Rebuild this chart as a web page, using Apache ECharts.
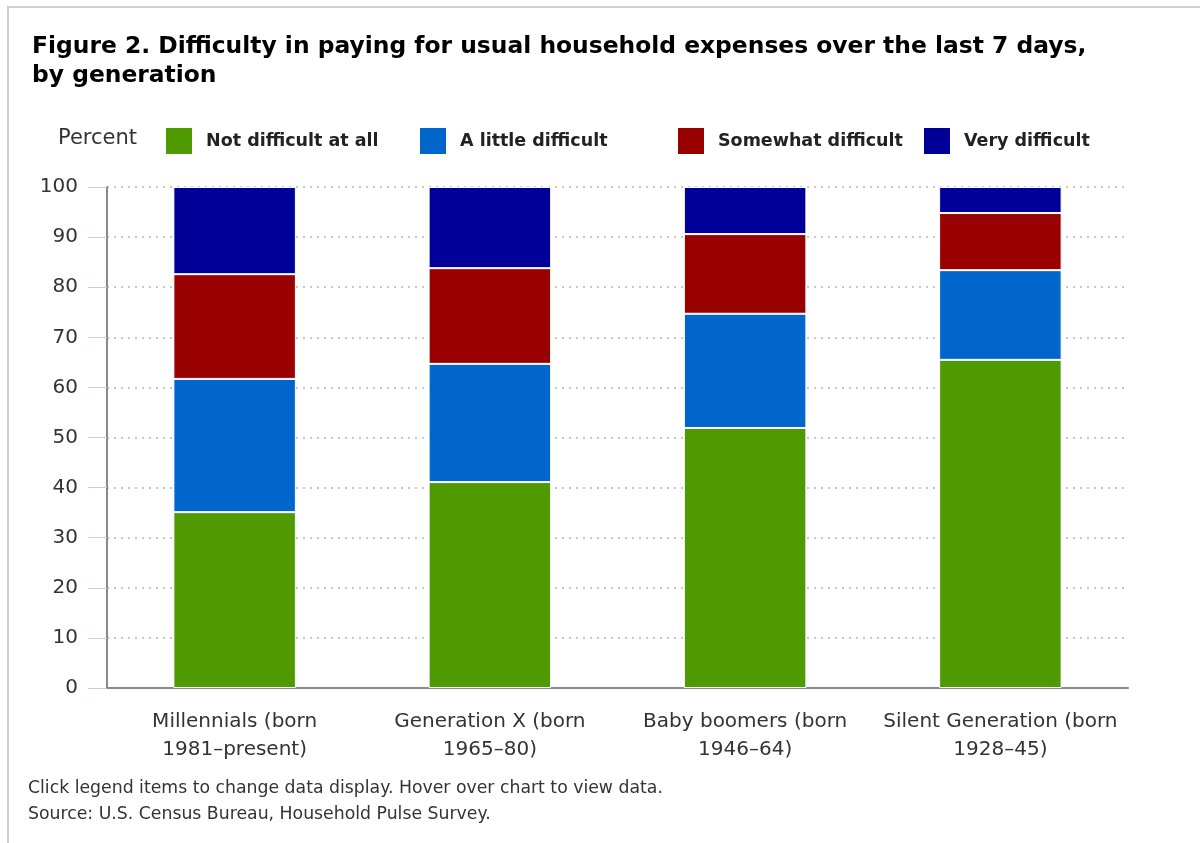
<!DOCTYPE html>
<html>
<head>
<meta charset="utf-8">
<script src="https://cdn.jsdelivr.net/npm/echarts@6/dist/echarts.min.js"></script>
<style>
  html, body { margin: 0; padding: 0; background: #fff; }
  #frame {
    position: absolute; left: 7px; top: 6px; width: 1200px; height: 843px;
    border-left: 2px solid #d0d0d0; border-top: 2px solid #d0d0d0;
    box-sizing: border-box;
  }
  #chart { position: absolute; left: 0; top: 0; width: 1200px; height: 843px; }
</style>
</head>
<body>
<div id="frame"></div>
<div id="chart"></div>
<script>
// Generations on the x axis
const categories = [
  "Millennials (born\n1981\u2013present)",
  "Generation X (born\n1965\u201380)",
  "Baby boomers (born\n1946\u201364)",
  "Silent Generation (born\n1928\u201345)"
];

// Percent of adults per difficulty level
const notDifficult = [35.1, 41.1, 51.9, 65.5];
const littleDifficult = [26.6, 23.6, 22.8, 17.9];
const somewhatDifficult = [20.9, 19.1, 15.9, 11.4];
const veryDifficult = [17.4, 16.2, 9.4, 5.2];

const seriesNames = ["Not difficult at all", "A little difficult", "Somewhat difficult", "Very difficult"];
const yTicks = [0, 10, 20, 30, 40, 50, 60, 70, 80, 90, 100];

const chart = echarts.init(document.getElementById("chart"));

const textColor = "#333";
const fontFamily = "'DejaVu Sans', sans-serif";

function barSeries(name, data, color) {
  return {
    name: name,
    type: "bar",
    stack: "total",
    data: data,
    barWidth: "48%",
    itemStyle: { color: color, borderColor: "#fff", borderWidth: 1 },
  };
}

// one legend per item so each sits where the original put it
const legendLefts = [164, 418, 676, 922];
const legends = seriesNames.map((name, i) => ({
  left: legendLefts[i],
  top: 126,
  padding: 0,
  itemWidth: 28,
  itemHeight: 28,
  icon: "rect",
  textStyle: {
    fontFamily: fontFamily,
    fontSize: 17.5,
    fontWeight: "bold",
    color: "#222",
    padding: [0, 0, 0, 8],
  },
  data: [name],
}));

const options = {
  animation: false,
  title: {
    text: "Figure 2. Difficulty in paying for usual household expenses over the last 7 days,\nby generation",
    left: 27,
    top: 27,
    textStyle: {
      fontFamily: "'DejaVu Sans', sans-serif",
      fontWeight: "bold",
      fontSize: 23.4,
      lineHeight: 29,
      color: "#000",
    },
  },
  legend: legends,
  graphic: [
    {
      type: "text",
      left: 58,
      top: 128,
      style: { text: "Percent", font: "21px " + fontFamily, fill: "#333" },
    },
    {
      type: "text",
      left: 28,
      top: 776,
      style: {
        text: "Click legend items to change data display. Hover over chart to view data.\nSource: U.S. Census Bureau, Household Pulse Survey.",
        font: "17.3px " + fontFamily,
        lineHeight: 26,
        fill: "#333",
      },
    },
  ],
  grid: { left: 107, right: 72, top: 187, bottom: 155 },
  xAxis: {
    type: "category",
    data: categories,
    axisLine: { lineStyle: { color: "#888", width: 2 } },
    axisTick: { alignWithLabel: true, length: 18, lineStyle: { color: "#c0d0e0", width: 1 } },
    axisLabel: {
      margin: 20,
      fontFamily: fontFamily,
      fontSize: 20,
      lineHeight: 28,
      color: textColor,
      interval: 0,
    },
  },
  yAxis: {
    type: "value",
    min: yTicks[0],
    max: yTicks[yTicks.length - 1],
    interval: 10,
    axisLine: { show: true, lineStyle: { color: "#888", width: 2 } },
    axisTick: { show: true, length: 19, lineStyle: { color: "#c0d0e0", width: 1 } },
    axisLabel: {
      margin: 29,
      fontFamily: fontFamily,
      fontSize: 20,
      color: textColor,
    },
    splitLine: {
      show: true,
      lineStyle: { color: "#c8c8c8", width: 2, type: [2, 5] },
    },
  },
  series: [
    barSeries(seriesNames[0], notDifficult, "#4e9a00"),
    barSeries(seriesNames[1], littleDifficult, "#0066cc"),
    barSeries(seriesNames[2], somewhatDifficult, "#990000"),
    barSeries(seriesNames[3], veryDifficult, "#000099"),
  ],
};

chart.setOption(options);
</script>
</body>
</html>
